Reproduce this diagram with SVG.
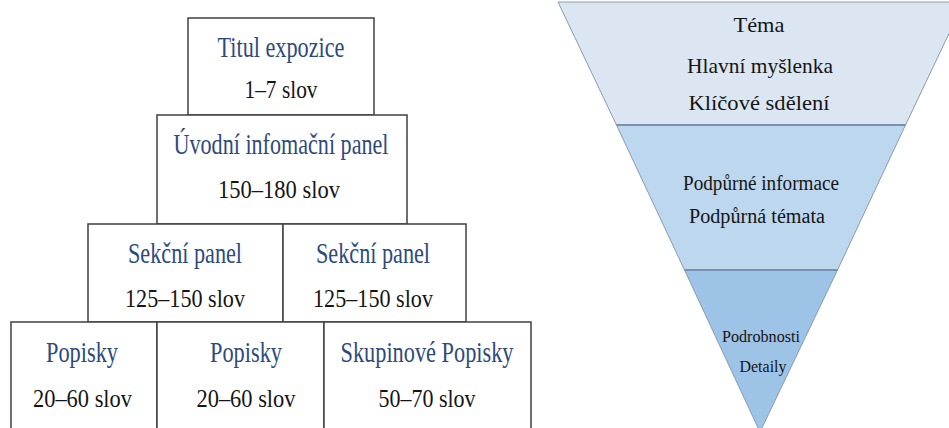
<svg xmlns="http://www.w3.org/2000/svg" width="949" height="428" viewBox="0 0 949 428">
<style>
.box{fill:#fff;stroke:#404040;stroke-width:1.5}
.bl{font-family:'Liberation Serif','Times New Roman',serif;font-size:29px;fill:#2e4a7d;text-anchor:middle}
.bk{font-family:'Liberation Serif','Times New Roman',serif;font-size:26px;fill:#151515;text-anchor:middle}
.fn{font-family:'Liberation Serif','Times New Roman',serif;fill:#151515;text-anchor:middle}
.div{stroke:#6d87a6;stroke-width:1.5;fill:none}
</style>
<rect width="949" height="428" fill="#fff"/>
<g id="pyramid">
<g id="titul">
<rect class="box" x="188" y="18" width="186" height="97"/>
<text class="bl" x="281" y="57" textLength="127" lengthAdjust="spacingAndGlyphs">Titul expozice</text>
<text class="bk" x="281" y="98" textLength="73" lengthAdjust="spacingAndGlyphs">1–7 slov</text>
</g>
<g id="uvodni">
<rect class="box" x="157" y="115" width="250" height="109"/>
<text class="bl" x="281" y="154" textLength="215" lengthAdjust="spacingAndGlyphs">Úvodní infomační panel</text>
<text class="bk" x="279" y="198" textLength="122" lengthAdjust="spacingAndGlyphs">150–180 slov</text>
</g>
<g id="sekcni1">
<rect class="box" x="88" y="224" width="195" height="98"/>
<text class="bl" x="185" y="263" textLength="114" lengthAdjust="spacingAndGlyphs">Sekční panel</text>
<text class="bk" x="185" y="307" textLength="120" lengthAdjust="spacingAndGlyphs">125–150 slov</text>
</g>
<g id="sekcni2">
<rect class="box" x="283" y="224" width="183" height="98"/>
<text class="bl" x="373" y="263" textLength="114" lengthAdjust="spacingAndGlyphs">Sekční panel</text>
<text class="bk" x="373" y="307" textLength="120" lengthAdjust="spacingAndGlyphs">125–150 slov</text>
</g>
<g id="popisky1">
<rect class="box" x="11" y="322" width="146" height="110"/>
<text class="bl" x="82" y="362" textLength="72" lengthAdjust="spacingAndGlyphs">Popisky</text>
<text class="bk" x="82.5" y="407" textLength="99" lengthAdjust="spacingAndGlyphs">20–60 slov</text>
</g>
<g id="popisky2">
<rect class="box" x="157" y="322" width="167" height="110"/>
<text class="bl" x="246" y="362" textLength="72" lengthAdjust="spacingAndGlyphs">Popisky</text>
<text class="bk" x="246" y="407" textLength="99" lengthAdjust="spacingAndGlyphs">20–60 slov</text>
</g>
<g id="skupinove">
<rect class="box" x="324" y="322" width="207" height="110"/>
<text class="bl" x="427" y="362" textLength="173" lengthAdjust="spacingAndGlyphs">Skupinové Popisky</text>
<text class="bk" x="427" y="407" textLength="97" lengthAdjust="spacingAndGlyphs">50–70 slov</text>
</g>
</g>
<g id="funnel">
<g id="tema">
<polygon points="558,2 964,2 905.5,125 616.5,125" fill="#dce6f2" stroke="#8a9bb0" stroke-width="1"/>
<text class="fn" x="759" y="32" font-size="22" textLength="51" lengthAdjust="spacingAndGlyphs">Téma</text>
<text class="fn" x="760" y="73" font-size="22" textLength="146" lengthAdjust="spacingAndGlyphs">Hlavní myšlenka</text>
<text class="fn" x="759" y="110" font-size="22" textLength="141" lengthAdjust="spacingAndGlyphs">Klíčové sdělení</text>
</g>
<g id="podpurne">
<polygon points="616.5,125 905.5,125 837.5,270 684.5,270" fill="#bdd7ee" stroke="#8a9bb0" stroke-width="1"/>
<text class="fn" x="761" y="190" font-size="20" textLength="156" lengthAdjust="spacingAndGlyphs">Podpůrné informace</text>
<text class="fn" x="757" y="223" font-size="20" textLength="136" lengthAdjust="spacingAndGlyphs">Podpůrná témata</text>
</g>
<g id="podrobnosti">
<polygon points="684.5,270 837.5,270 760,432" fill="#9dc3e6" stroke="#8a9bb0" stroke-width="1"/>
<text class="fn" x="761" y="342" font-size="17" textLength="78" lengthAdjust="spacingAndGlyphs">Podrobnosti</text>
<text class="fn" x="763" y="372" font-size="17" textLength="47" lengthAdjust="spacingAndGlyphs">Detaily</text>
</g>
<g id="connectors">
<line class="div" x1="616.5" y1="125" x2="905.5" y2="125"/>
<line class="div" x1="684.5" y1="270" x2="837.5" y2="270"/>
</g>
</g>
</svg>
